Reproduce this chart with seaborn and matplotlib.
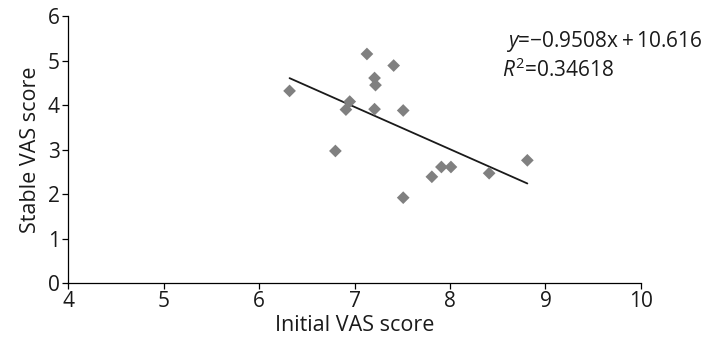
import matplotlib as mpl
import matplotlib.pyplot as plt
import pandas as pd
import seaborn as sns

# values
initial_vas = [6.32, 7.13, 7.41, 7.21, 7.22, 6.95, 6.91, 7.21, 7.51, 6.80,
               7.81, 7.91, 8.01, 7.51, 8.41, 8.81]
stable_vas = [4.32, 5.15, 4.89, 4.61, 4.45, 4.08, 3.90, 3.91, 3.88, 2.97,
              2.39, 2.61, 2.61, 1.92, 2.47, 2.76]

# trend line as printed on the chart
fit_slope = -0.9508
fit_intercept = 10.616
fit_r2 = 0.34618

x_ticks = [4, 5, 6, 7, 8, 9, 10]
y_ticks = [0, 1, 2, 3, 4, 5, 6]

sns.set_theme(style="ticks")
mpl.rcParams.update(
    {
        "font.family": ["Open Sans", "DejaVu Sans"],
        "mathtext.fontset": "custom",
        "mathtext.rm": "Open Sans",
        "mathtext.it": "Open Sans:italic",
        "axes.edgecolor": "black",
        "axes.linewidth": 0.9,
        "xtick.color": "black",
        "ytick.color": "black",
        "xtick.major.size": 4,
        "ytick.major.size": 4,
        "xtick.major.width": 0.9,
        "ytick.major.width": 0.9,
        "xtick.direction": "out",
        "ytick.direction": "out",
    }
)

df = pd.DataFrame({"initial": initial_vas, "stable": stable_vas})
x_min, x_max = df["initial"].min(), df["initial"].max()
trend = pd.DataFrame({"initial": [x_min, x_max]})
trend["stable"] = fit_slope * trend["initial"] + fit_intercept

fig = plt.figure(figsize=(7.1, 3.44), dpi=100)
ax = fig.add_axes([0.0958, 0.177, 0.807, 0.776])

sns.lineplot(data=trend, x="initial", y="stable", ax=ax, color="#1a1a1a", linewidth=1.3)
sns.scatterplot(data=df, x="initial", y="stable", ax=ax, marker="D", s=42,
                color="#808080", edgecolor="none", zorder=3)

ax.set_xlim(4, 10)
ax.set_ylim(0, 6)
ax.set_xticks(x_ticks)
ax.set_yticks(y_ticks)
ax.tick_params(labelsize=15, pad=2, labelcolor="#1a1a1a")
ax.set_xlabel("Initial VAS score", fontsize=15.5, color="#1a1a1a", labelpad=2)
ax.set_ylabel("Stable VAS score", fontsize=15.5, color="#1a1a1a", labelpad=5)
sns.despine(ax=ax)

fig.text(0.99, 0.863, "$y$=−0.9508x\u2009+\u200910.616", ha="right",
         va="baseline", fontsize=15, color="#1a1a1a")
fig.text(0.707, 0.776, rf"$R^2$={fit_r2}", ha="left", va="baseline",
         fontsize=15, color="#1a1a1a")

fig.savefig("out.png", dpi=100)
